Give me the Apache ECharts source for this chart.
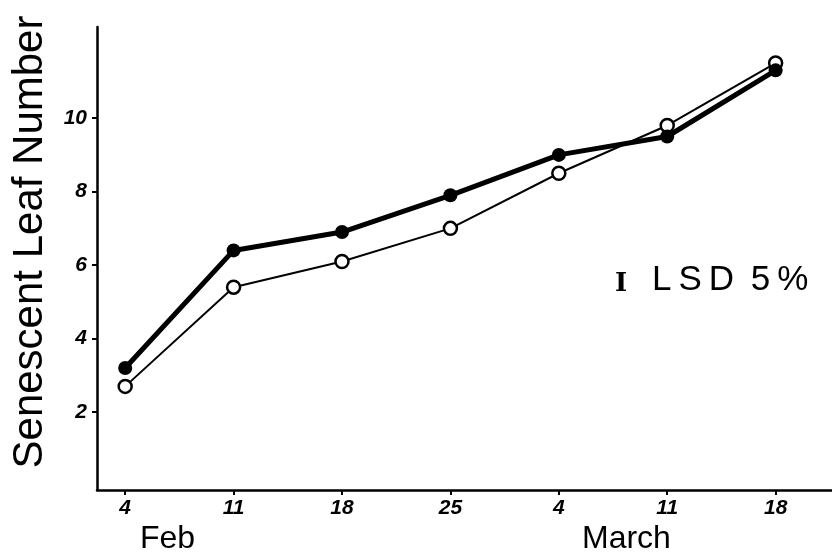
<!DOCTYPE html>
<html>
<head>
<meta charset="utf-8">
<script src="https://cdn.jsdelivr.net/npm/echarts@6/dist/echarts.min.js"></script>
<style>
html,body{margin:0;padding:0;background:#fff;}
#chart{width:832px;height:558px;}
</style>
</head>
<body>
<div id="chart"></div>
<script>
// ---- data ----
const weekIndex = [0, 1, 2, 3, 4, 5, 6];
const dateLabels = ["4", "11", "18", "25", "4", "11", "18"];
const monthLabels = ["Feb", "March"];
const filledValues = [3.2, 6.4, 6.9, 7.9, 9.0, 9.5, 11.3];
const openValues = [2.7, 5.4, 6.1, 7.0, 8.5, 9.8, 11.5];
const yTickValues = [2, 4, 6, 8, 10];
const yTitle = "Senescent Leaf Number";
const lsdChars = ["L", "S", "D", " ", "5", "%"];

const chart = echarts.init(document.getElementById('chart'));
const tickFont = {fontFamily: 'Liberation Sans', fontStyle: 'italic', fontWeight: 'bold', fontSize: 21, color: '#000'};

const lsdRichText = lsdChars.map(c => c === ' ' ? ' ' : '{s|' + c + '}').join('');

chart.setOption({
  backgroundColor: '#fff',
  animation: false,
  grid: {left: 97, top: 27, right: 0, bottom: 68},
  xAxis: {
    type: 'value', min: -0.26, max: 6.52,
    splitLine: {show: false},
    axisLine: {onZero: false, lineStyle: {color: '#000', width: 2.5}},
    axisTick: {customValues: weekIndex, length: 5, lineStyle: {color: '#000', width: 2}},
    axisLabel: Object.assign({customValues: weekIndex, margin: 8,
      formatter: v => dateLabels[Math.round(v)]}, tickFont)
  },
  yAxis: {
    type: 'value', min: -0.12, max: 12.48,
    splitLine: {show: false},
    axisLine: {show: true, onZero: false, lineStyle: {color: '#000', width: 2.5}},
    axisTick: {show: true, customValues: yTickValues, length: 5, lineStyle: {color: '#000', width: 2}},
    axisLabel: Object.assign({customValues: yTickValues, margin: 10}, tickFont)
  },
  graphic: [
    {type: 'text', x: 30, y: 242, rotation: Math.PI / 2,
      style: {text: yTitle, fontFamily: 'Liberation Sans', fontSize: 42, fill: '#000', align: 'center', verticalAlign: 'middle'}},
    {type: 'text', x: 140, y: 539,
      style: {text: monthLabels[0], fontFamily: 'Liberation Sans', fontSize: 32, fill: '#000', align: 'left', verticalAlign: 'middle'}},
    {type: 'text', x: 582, y: 539,
      style: {text: monthLabels[1], fontFamily: 'Liberation Sans', fontSize: 32, fill: '#000', align: 'left', verticalAlign: 'middle'}},
    {type: 'text', x: 615, y: 284,
      style: {text: 'I', fontFamily: 'DejaVu Serif', fontWeight: 'bold', fontSize: 26, fill: '#000', align: 'left', verticalAlign: 'middle'}},
    {type: 'text', x: 652, y: 280,
      style: {text: lsdRichText, fontFamily: 'Liberation Sans', fontSize: 35, fill: '#000', align: 'left', verticalAlign: 'middle',
        rich: {s: {fontFamily: 'Liberation Sans', fontSize: 35, fill: '#000', padding: [0, 7, 0, 0]}}}}
  ],
  series: [
    {
      name: 'Open', type: 'line', z: 2,
      data: weekIndex.map((x, i) => [x, openValues[i]]),
      symbol: 'circle', symbolSize: 13,
      lineStyle: {color: '#000', width: 2},
      itemStyle: {color: '#fff', borderColor: '#000', borderWidth: 2.5}
    },
    {
      name: 'Filled', type: 'line', z: 3,
      data: weekIndex.map((x, i) => [x, filledValues[i]]),
      symbol: 'circle', symbolSize: 14,
      lineStyle: {color: '#000', width: 5},
      itemStyle: {color: '#000', borderColor: '#000', borderWidth: 0}
    }
  ]
});
</script>
</body>
</html>
